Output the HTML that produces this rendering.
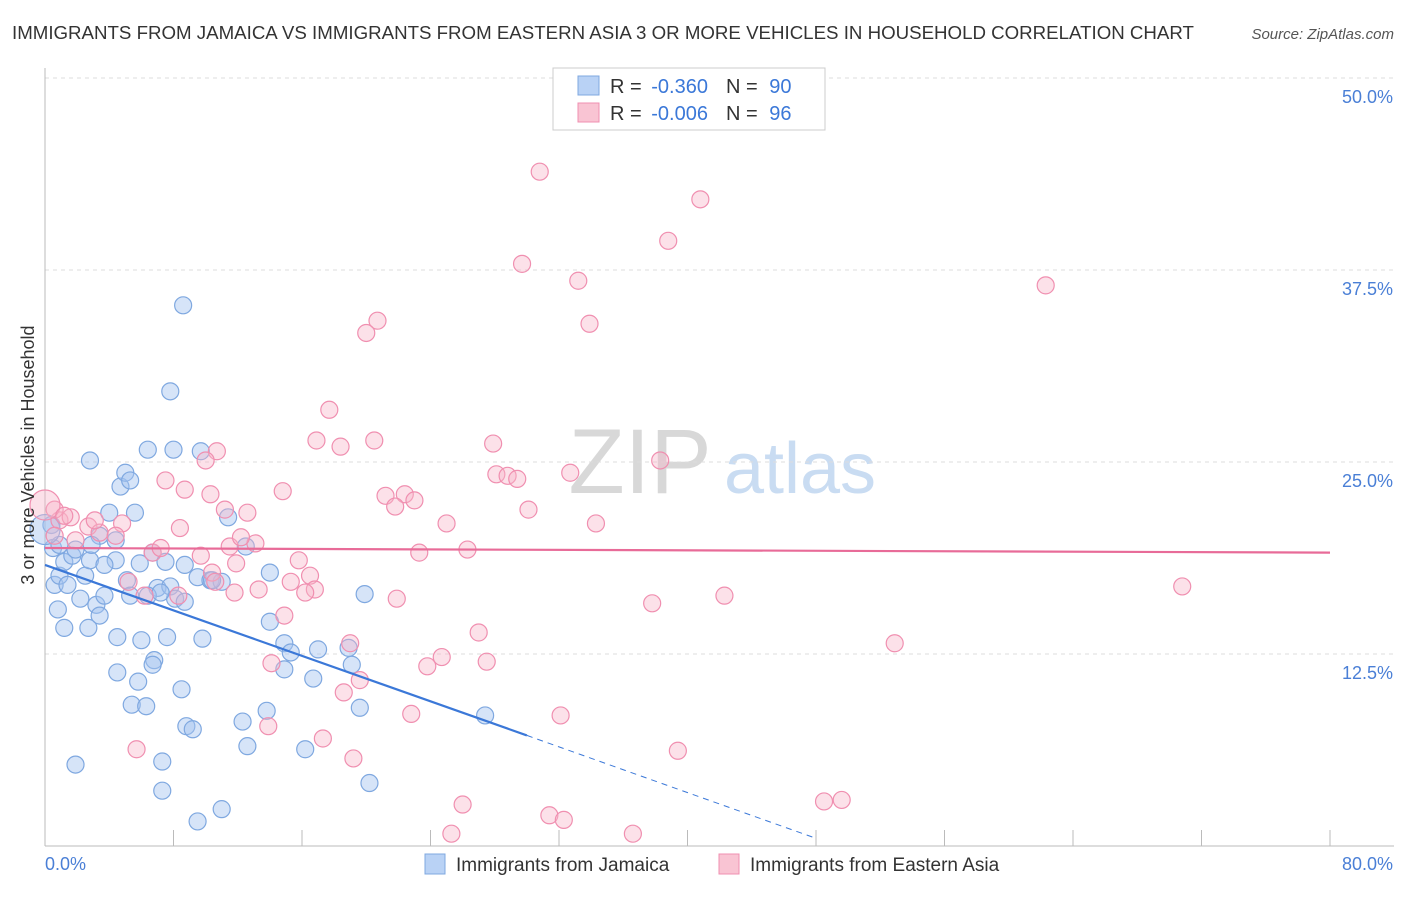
<!DOCTYPE html>
<html><head><meta charset="utf-8"><style>
body{margin:0;background:#fff;font-family:"Liberation Sans",sans-serif}
svg text{font-family:"Liberation Sans",sans-serif}
</style></head><body>
<svg id="chart" width="1406" height="892" xmlns="http://www.w3.org/2000/svg">
<text x="12" y="39" font-size="18.7" fill="#333">IMMIGRANTS FROM JAMAICA VS IMMIGRANTS FROM EASTERN ASIA 3 OR MORE VEHICLES IN HOUSEHOLD CORRELATION CHART</text>
<text x="1394" y="39" font-size="15" fill="#555" font-style="italic" text-anchor="end">Source: ZipAtlas.com</text>
<text x="640" y="493" font-size="92" fill="#d8d8d8" font-family="Liberation Serif" text-anchor="middle">ZIP</text>
<text x="800" y="493" font-size="72" fill="#c9dcf2" text-anchor="middle">atlas</text>
<g id="grid"></g>
<g id="axes"></g>
<g id="points"></g>
<g id="trends"></g>
<g>
<rect x="553" y="68" width="272" height="62" fill="#fff" stroke="#ccc"/>
<rect x="578" y="76" width="21" height="19" fill="#b9d2f5" stroke="#7fa8e0"/>
<rect x="578" y="103" width="21" height="19" fill="#f9c4d3" stroke="#f08fb0"/>
<text x="610" y="93" font-size="20" fill="#333">R = <tspan dx="4" fill="#3b78d8">-0.360</tspan><tspan dx="18">N = </tspan><tspan dx="6" fill="#3b78d8">90</tspan></text>
<text x="610" y="120" font-size="20" fill="#333">R = <tspan dx="4" fill="#3b78d8">-0.006</tspan><tspan dx="18">N = </tspan><tspan dx="6" fill="#3b78d8">96</tspan></text>
</g>
<g>
<rect x="425" y="854" width="20" height="20" fill="#b9d2f5" stroke="#7fa8e0"/>
<text x="456" y="871" font-size="19" fill="#333">Immigrants from Jamaica</text>
<rect x="719" y="854" width="20" height="20" fill="#f9c4d3" stroke="#f08fb0"/>
<text x="750" y="871" font-size="19" fill="#333">Immigrants from Eastern Asia</text>
</g>
<text x="34" y="455" font-size="18" fill="#333" text-anchor="middle" transform="rotate(-90 34 455)">3 or more Vehicles in Household</text>
</svg>
<script>
const yTicks=[12.5,25,37.5,50];
const yTickLabels=["12.5%","25.0%","37.5%","50.0%"];
const xTicks=[0,8,16,24,32,40,48,56,64,72,80];
const xEndLabels=["0.0%","80.0%"];
const jamX=[0.5,0.6,0.8,0.9,1.2,1.4,1.7,1.9,2.2,2.5,2.8,2.7,1.2,3.2,3.4,3.7,4.0,4.4,4.7,5.0,5.3,5.6,5.1,5.9,6.4,6.7,7.0,7.5,7.8,8.1,8.7,9.5,10.3,11.0,11.4,12.5,14.0,4.5,6.0,6.8,7.6,9.8,4.5,5.8,6.7,8.5,5.4,6.3,8.8,9.2,12.3,12.6,13.8,14.0,14.9,15.3,14.9,16.2,16.7,17.0,19.1,18.9,19.6,19.9,20.2,27.4,1.9,7.3,7.3,11.0,9.5,8.6,7.8,2.8,9.7,8.0,5.3,3.4,2.9,0.9,0.4,0.0,4.4,3.7,6.4,7.2,8.7,10.4];
const jamY=[19.4,17.0,15.4,17.6,18.5,17.0,18.9,19.3,16.1,17.6,18.6,14.2,14.2,15.7,15.0,16.3,21.7,19.9,23.4,24.3,23.8,21.7,17.3,18.4,25.8,19.1,16.8,18.5,16.9,16.1,18.3,17.5,17.3,17.2,21.4,19.5,17.8,13.6,13.4,12.1,13.6,13.5,11.3,10.7,11.8,10.2,9.2,9.1,7.8,7.6,8.1,6.5,8.8,14.6,13.2,12.6,11.5,6.3,10.9,12.8,11.8,12.9,9.0,16.4,4.1,8.5,5.3,5.5,3.6,2.4,1.6,35.2,29.6,25.1,25.7,25.8,16.3,20.2,19.6,19.6,20.9,20.6,18.6,18.3,16.3,16.5,15.9,17.3];
const easX=[30.8,40.8,38.8,29.7,33.2,62.3,33.9,20.7,20.0,17.7,16.9,18.4,20.5,27.9,10.7,10.0,38.3,28.1,28.8,29.4,32.7,7.5,8.7,10.3,14.8,21.2,22.4,23.0,21.8,12.6,11.2,25.0,30.1,34.3,8.4,4.8,2.7,3.4,4.4,1.9,0.9,0.6,0.0,1.6,6.7,7.2,9.7,11.5,13.1,15.8,23.3,26.3,16.5,16.8,15.3,11.8,13.3,21.9,16.2,10.4,11.9,37.8,42.3,70.8,14.9,19.0,27.0,24.7,23.8,27.5,14.1,52.9,19.6,18.6,13.9,22.8,32.1,17.3,5.7,19.2,39.4,48.5,49.6,26.0,31.4,32.3,36.6,25.3,12.2,6.2,5.2,8.3,0.6,1.2,3.1,10.6];
const easY=[43.9,42.1,39.4,37.9,36.8,36.5,34.0,34.2,33.4,28.4,26.4,26.0,26.4,26.2,25.7,25.1,25.1,24.2,24.1,23.9,24.3,23.8,23.2,22.9,23.1,22.8,22.9,22.5,22.1,21.7,21.9,21.0,21.9,21.0,20.7,21.0,20.8,20.4,20.2,19.9,21.2,21.9,22.2,21.4,19.1,19.4,18.9,19.5,19.7,18.6,19.1,19.3,17.6,16.7,17.2,16.5,16.7,16.1,16.5,17.8,18.4,15.8,16.3,16.9,15.0,13.2,13.9,12.3,11.7,12.0,11.9,13.2,10.8,10.0,7.8,8.6,8.5,7.0,6.3,5.7,6.2,2.9,3.0,2.7,2.0,1.7,0.8,0.8,20.1,16.3,17.2,16.3,20.2,21.5,21.2,17.2];
const jamTrend=[[0,18.3],[30,7.2],[48,0.5]];
const easTrend=[[0,19.4],[80,19.1]];

const NS="http://www.w3.org/2000/svg";
const X0=45,X1=1330,Y0=846,Y50=78;
const sx=v=>X0+v/80*(X1-X0);
const sy=v=>Y0-v/50*(Y0-Y50);
function mk(tag,attrs,parent){const e=document.createElementNS(NS,tag);for(const k in attrs)e.setAttribute(k,attrs[k]);parent.appendChild(e);return e;}
const grid=document.getElementById('grid'),axes=document.getElementById('axes'),pts=document.getElementById('points'),tr=document.getElementById('trends');
yTicks.forEach((t,i)=>{
  const l=mk('line',{x1:X0,x2:1394,y1:sy(t),y2:sy(t),stroke:'#ddd','stroke-dasharray':'4,4'},grid);
  
  
  const tx=mk('text',{x:1393,y:sy(t)+25,'font-size':18,fill:'#4a7fd6','text-anchor':'end'},grid);
  tx.textContent=yTickLabels[i];
  
  
});
const ax=mk('line',{x1:X0,x2:X0,y1:68,y2:Y0,stroke:'#bbb'},axes);


const bx=mk('line',{x1:X0,x2:1394,y1:Y0,y2:Y0,stroke:'#bbb'},axes);


xTicks.forEach(t=>{
  const l=mk('line',{x1:sx(t),x2:sx(t),y1:Y0-16,y2:Y0,stroke:'#bbb'},axes);
  
  
});
[[0,'start',45],[80,'end',1393]].forEach((d,i)=>{
  const tx=mk('text',{x:d[2],y:870,'font-size':18,fill:'#4a7fd6','text-anchor':d[1]},axes);
  tx.textContent=xEndLabels[i];
  
  
});
function drawPts(xs,ys,fill,stroke,name){
  xs.forEach((x,i)=>{
    const big=(x===0);
    const c=mk('circle',{cx:sx(x),cy:sy(ys[i]),r:big?15:8.5,fill:fill,stroke:stroke,'stroke-width':1.2},pts);
    
    
  });
}
drawPts(jamX,jamY,'rgba(164,196,240,0.45)','#7fa8e0','point-jamaica');
drawPts(easX,easY,'rgba(248,180,200,0.4)','#f08fb0','point-eastern-asia');
const jl=mk('line',{x1:sx(jamTrend[0][0]),y1:sy(jamTrend[0][1]),x2:sx(jamTrend[1][0]),y2:sy(jamTrend[1][1]),stroke:'#3b78d8','stroke-width':2.2},tr);


const jd=mk('line',{x1:sx(jamTrend[1][0]),y1:sy(jamTrend[1][1]),x2:sx(jamTrend[2][0]),y2:sy(jamTrend[2][1]),stroke:'#3b78d8','stroke-width':1,'stroke-dasharray':'6,5'},tr);


const el=mk('line',{x1:sx(easTrend[0][0]),y1:sy(easTrend[0][1]),x2:sx(easTrend[1][0]),y2:sy(easTrend[1][1]),stroke:'#e86b98','stroke-width':2.2},tr);


</script>
</body></html>
